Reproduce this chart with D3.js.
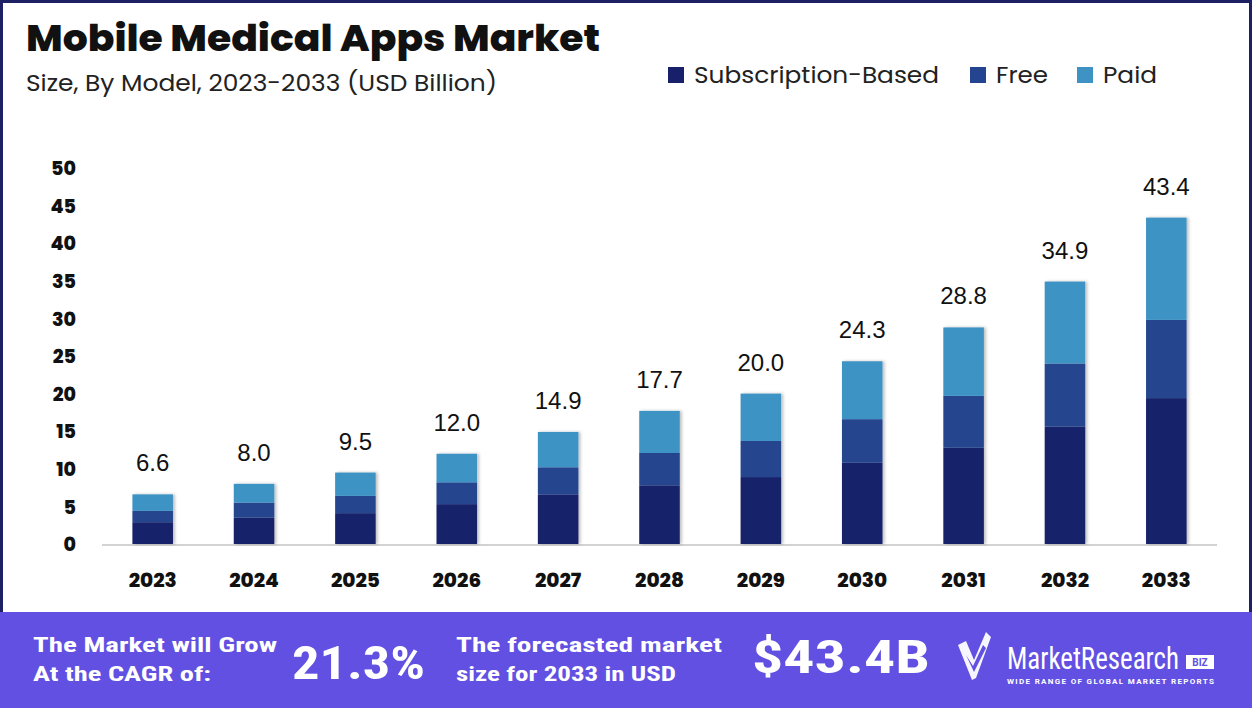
<!DOCTYPE html>
<html><head><meta charset="utf-8">
<script src="https://cdn.jsdelivr.net/npm/d3@7"></script>
<style>
html,body{margin:0;padding:0;background:#fff;}
svg{display:block;}
</style></head>
<body>
<script>
const years = ["2023","2024","2025","2026","2027","2028","2029","2030","2031","2032","2033"];
const subscription = [2.9, 3.5, 4.1, 5.3, 6.6, 7.8, 8.9, 10.8, 12.8, 15.6, 19.4];
const free = [1.5, 2.0, 2.3, 2.9, 3.6, 4.3, 4.8, 5.8, 6.9, 8.4, 10.4];
const paid = [2.2, 2.5, 3.1, 3.8, 4.7, 5.6, 6.3, 7.7, 9.1, 10.9, 13.6];
const totals = [6.6, 8.0, 9.5, 12.0, 14.9, 17.7, 20.0, 24.3, 28.8, 34.9, 43.4];
const yTicks = [0, 5, 10, 15, 20, 25, 30, 35, 40, 45, 50];
const seriesNames = ["Subscription-Based", "Free", "Paid"];
const colors = ["#19206a", "#25448f", "#3e93c4"];

const W = 1252, H = 708;
const svg = d3.select("body").append("svg").attr("width", W).attr("height", H);

const defs = svg.append("defs");
const f = defs.append("filter").attr("id","sh").attr("x","-20%").attr("y","-5%").attr("width","140%").attr("height","110%");
f.append("feDropShadow").attr("dx",2).attr("dy",0).attr("stdDeviation",1.5).attr("flood-color","#000").attr("flood-opacity",0.25);

// frame
svg.append("rect").attr("x",0).attr("y",0).attr("width",W).attr("height",H).attr("fill","#fff");
svg.append("rect").attr("x",1.5).attr("y",1.5).attr("width",W-3).attr("height",620).attr("fill","none").attr("stroke","#1d2163").attr("stroke-width",3);

// title
svg.append("text").attr("x",26).attr("y",51).text("Mobile Medical Apps Market")
  .attr("font-family","Poppins, Inter, 'Open Sans', sans-serif").attr("font-weight",800).attr("font-size",37).attr("fill","#111")
  .attr("textLength",574).attr("lengthAdjust","spacingAndGlyphs");
svg.append("text").attr("x",26).attr("y",91).text("Size, By Model, 2023-2033 (USD Billion)")
  .attr("font-family","Poppins, Inter, 'Open Sans', sans-serif").attr("font-size",23).attr("fill","#222")
  .attr("textLength",471).attr("lengthAdjust","spacingAndGlyphs");

// legend
const legX = [668, 970, 1077];
const legW = [245, 52, 54];
seriesNames.forEach((n,i)=>{
  svg.append("rect").attr("x",legX[i]).attr("y",67).attr("width",16).attr("height",16).attr("fill",colors[i]);
  svg.append("text").attr("x",legX[i]+26).attr("y",83).text(n)
    .attr("font-family","Poppins, Inter, 'Open Sans', sans-serif").attr("font-size",23).attr("fill","#222")
    .attr("textLength",legW[i]).attr("lengthAdjust","spacingAndGlyphs");
});

// scales
const x = d3.scaleBand().domain(years).range([102, 1217]).paddingInner(0.6).paddingOuter(0.3);
const y = d3.scaleLinear().domain([0, 50]).range([544, 168]);

// axis line
svg.append("line").attr("x1",102).attr("x2",1217).attr("y1",545).attr("y2",545).attr("stroke","#d3d3d3").attr("stroke-width",2);

// y ticks
const yAxis = d3.axisLeft(y).tickValues(yTicks).tickSize(0).tickPadding(0);
const gy = svg.append("g").attr("transform","translate(76,0)").call(yAxis);
gy.select(".domain").remove();
gy.selectAll("text").attr("font-family","Poppins, Inter, 'Open Sans', sans-serif").attr("font-weight",800).attr("font-size",19).attr("fill","#111").attr("dy","0.35em");

// x ticks
const xAxis = d3.axisBottom(x).tickSize(0).tickPadding(0);
const gx = svg.append("g").attr("transform","translate(0,580)").call(xAxis);
gx.select(".domain").remove();
gx.selectAll("text").attr("font-family","Poppins, Inter, 'Open Sans', sans-serif").attr("font-weight",800).attr("font-size",20).attr("fill","#111").attr("dy","0.35em");

// stacked bars
const rows = years.map((yr,i)=>({year:yr, s0:subscription[i], s1:free[i], s2:paid[i]}));
const stack = d3.stack().keys(["s0","s1","s2"])(rows);
const gb = svg.append("g").attr("filter","url(#sh)");
stack.forEach((layer,li)=>{
  gb.selectAll(null).data(layer).enter().append("rect")
    .attr("x",d=>x(d.data.year)).attr("width",x.bandwidth())
    .attr("y",d=>y(d[1])).attr("height",d=>y(d[0])-y(d[1]))
    .attr("fill",colors[li]);
});

// totals
svg.selectAll(null).data(years).enter().append("text")
  .attr("x",d=>x(d)+x.bandwidth()/2).attr("y",(d,i)=>y(totals[i])-23)
  .attr("text-anchor","middle").text((d,i)=>totals[i].toFixed(1))
  .attr("font-family","'Liberation Sans', Arial, sans-serif").attr("font-size",24).attr("fill","#111");

// banner
svg.append("rect").attr("x",0).attr("y",612).attr("width",W).attr("height",96).attr("fill","#6150e2");
const bf = "'Roboto Condensed', Roboto, Inter, sans-serif";
function bt(txt,xx,yy,size,len){
  svg.append("text").attr("x",xx).attr("y",yy).text(txt).attr("font-family",bf).attr("font-weight",700)
    .attr("font-size",size).attr("fill","#fff").attr("textLength",len).attr("lengthAdjust","spacingAndGlyphs");
}
bt("The Market will Grow",33,652,21,244);
bt("At the CAGR of:",33,681,21,178);
bt("21.3%",292,679,46,133);
bt("The forecasted market",456,652,21,266);
bt("size for 2033 in USD",456,681,21,220);
bt("$43.4B",752,673,46,178);

// logo
const lg = svg.append("g");
lg.append("path").attr("d","M958,645 L966,641 L974,660 L986,632 L991,637 L976,678 L972,680 Z").attr("fill","#fff").attr("opacity",0.95);
lg.append("path").attr("d","M966,655 L973,666 L983,645 L986,648 L974,672 Z").attr("fill","#6150e2");
const mr = lg.append("text").attr("x",0).attr("y",0).text("MarketResearch").attr("font-family","'Roboto Condensed', Roboto, sans-serif")
  .attr("font-size",31).attr("fill","#fff");
const mrW = mr.node().getComputedTextLength() || 200;
mr.attr("transform",`translate(1007,669) scale(${172/mrW},1)`);
lg.append("rect").attr("x",1186).attr("y",655).attr("width",28).attr("height",14).attr("fill","#fff");
lg.append("text").attr("x",1200).attr("y",666).attr("text-anchor","middle").text("BIZ").attr("font-family","Roboto, sans-serif").attr("font-weight",700)
  .attr("font-size",10).attr("fill","#6150e2");
lg.append("text").attr("x",1007).attr("y",684).text("WIDE RANGE OF GLOBAL MARKET REPORTS").attr("font-family","Roboto, sans-serif").attr("font-weight",700)
  .attr("font-size",8).attr("fill","#fff").attr("textLength",207).attr("lengthAdjust","spacing");
</script>
</body></html>
